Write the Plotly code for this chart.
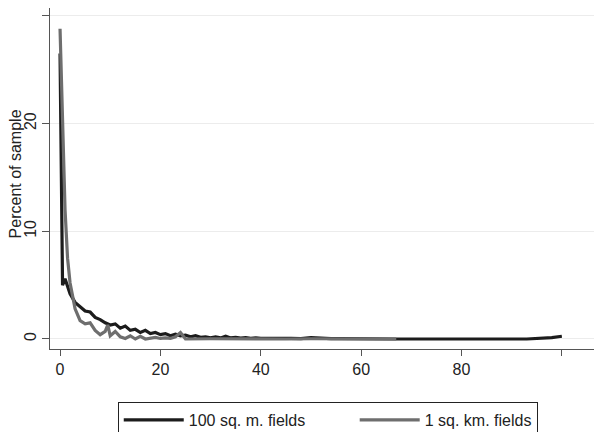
import plotly.graph_objects as go

# 100 sq. m. fields
x_small = [0, 0.5, 1, 1.5, 2, 3, 4, 5, 6, 7, 8, 9, 10, 11, 12, 13, 14, 15, 16, 17, 18, 19,
           20, 21, 22, 23, 24, 25, 26, 27, 28, 29, 30, 31, 32, 33, 34, 35, 36, 37, 38, 39,
           40, 42, 44, 46, 48, 50, 52, 54, 56, 58, 60, 62, 64, 66, 67, 93, 96, 98, 100]
y_small = [26.5, 5.0, 5.6, 5.0, 4.2, 3.4, 3.0, 2.6, 2.5, 2.0, 1.8, 1.5, 1.3, 1.4, 1.0, 1.2,
           0.8, 0.9, 0.6, 0.8, 0.5, 0.6, 0.4, 0.5, 0.3, 0.45, 0.3, 0.35, 0.2, 0.3, 0.15,
           0.2, 0.1, 0.2, 0.1, 0.25, 0.1, 0.15, 0.08, 0.12, 0.06, 0.1, 0.05, 0.08, 0.05,
           0.06, 0.04, 0.12, 0.04, 0.03, 0.04, 0.03, 0.06, 0.03, 0.02, 0.02, 0.0, 0.0,
           0.05, 0.12, 0.25]

# 1 sq. km. fields
x_large = [0, 0.5, 1, 1.5, 2, 2.5, 3, 4, 5, 6, 7, 8, 9, 9.5, 10, 11, 12, 13, 14, 15, 16,
           17, 18, 19, 20, 21, 22, 23, 24, 25, 30, 35, 40, 45, 50, 55, 60, 67]
y_large = [28.8, 20.0, 12.0, 7.5, 5.2, 4.0, 2.8, 1.7, 1.4, 1.5, 0.8, 0.4, 0.7, 1.3, 0.3,
           0.7, 0.2, 0.05, 0.3, 0.0, 0.25, 0.0, 0.1, 0.15, 0.05, 0.1, 0.05, 0.2, 0.6, 0.0,
           0.02, 0.0, 0.02, 0.0, 0.02, 0.0, 0.02, 0.0]

x_ticks = [0, 20, 40, 60, 80, 100]
x_tick_labels = ["0", "20", "40", "60", "80", ""]
y_ticks = [0, 10, 20, 30]

font = "Liberation Sans, Arial, sans-serif"
pad = "\u00a0" * 10

fig = go.Figure()
fig.add_trace(go.Scatter(x=x_small, y=y_small, mode="lines", name="100 sq. m. fields" + pad,
                         line=dict(color="#1c1c1c", width=3.2)))
fig.add_trace(go.Scatter(x=x_large, y=y_large, mode="lines", name="1 sq. km. fields",
                         line=dict(color="#6e6e6e", width=3.2)))

# the page body adds an 8px offset, so the figure is 594x424
fig.update_layout(
    width=594, height=424,
    margin=dict(l=42, r=2, t=0, b=83, autoexpand=False),
    paper_bgcolor="white", plot_bgcolor="white",
    font=dict(family=font, size=16, color="#222"),
    showlegend=True,
    legend=dict(orientation="h", x=0.505, xanchor="center",
                yref="container", y=0.0708, yanchor="top",
                bordercolor="#222", borderwidth=1, font=dict(size=16),
                itemwidth=60, tracegroupgap=0),
    xaxis=dict(range=[-2, 107.6], tickvals=x_ticks, ticktext=x_tick_labels,
               showgrid=False, zeroline=False, showline=True, linecolor="#555",
               linewidth=1, ticks="outside", ticklen=6, tickcolor="#555",
               tickfont=dict(size=16)),
    yaxis=dict(range=[-0.93, 30.73], tickvals=y_ticks, tickangle=-90,
               showgrid=True, gridcolor="#ececec", gridwidth=1, zeroline=False,
               showline=True, linecolor="#555", linewidth=1, ticks="outside",
               ticklen=7, tickcolor="#555", tickfont=dict(size=16)),
    annotations=[dict(text="Percent of sample", xref="paper", yref="paper",
                      x=-0.063, y=0.513, xanchor="center", yanchor="middle",
                      textangle=-90, showarrow=False, font=dict(size=16, color="#222"))],
)

fig.write_html("out.html")
